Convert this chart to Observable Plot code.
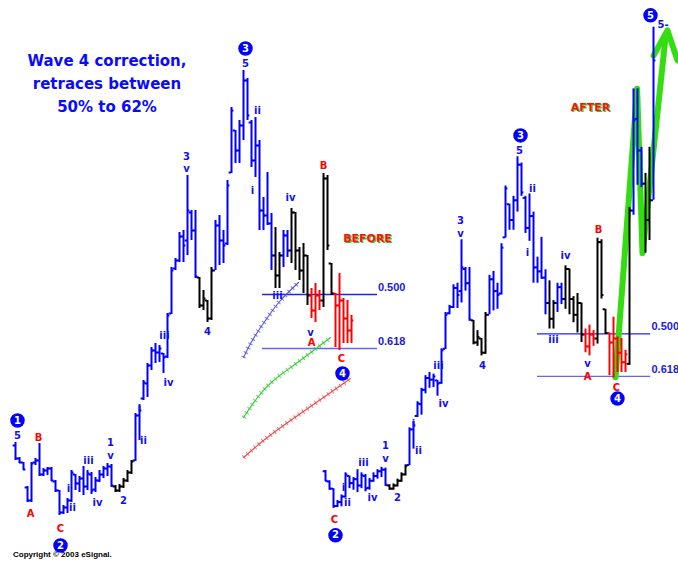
<!DOCTYPE html>
<html><head><meta charset="utf-8">
<script src="https://cdn.jsdelivr.net/npm/d3@7"></script>
<script src="https://cdn.jsdelivr.net/npm/@observablehq/plot@0.6"></script>
<style>
html,body{margin:0;padding:0;background:#fff;}
#wrap{position:relative;width:678px;height:563px;overflow:hidden;background:#fff;}
#wrap svg{position:absolute;left:0;top:0;}
.title{position:absolute;left:0;top:50px;width:214px;text-align:center;color:#0a0aff;font:bold 15px "DejaVu Sans";line-height:23px;white-space:nowrap;}
.copy{position:absolute;left:13px;top:550px;font:bold 8px "Liberation Sans";color:#000;white-space:nowrap;}
</style></head><body>
<div id="wrap">
  <div class="title">Wave 4 correction,<br>retraces between<br>50% to 62%</div>
  <div class="copy">Copyright © 2003 eSignal.</div>
</div>
<script>
// ---- price bars (bar index = position in array) ----
const barHigh  = [27.3,25.8,25.3,22.9,25.3,25.7,27.2,24.7,24.8,24.8,23.5,22.5,21.0,21.7,24.5,24.1,23.9,24.9,24.5,24.3,23.8,24.5,24.9,25.2,25.1,23.0,23.1,23.7,24.5,25.5,30.2,31.0,33.5,35.2,36.8,37.2,37.0,36.2,40.2,44.8,45.7,48.3,48.5,54.0,50.5,50.5,43.8,42.5,41.5,44.8,49.5,50.0,48.5,53.5,60.8,58.5,59.5,64.5,63.7,59.5,59.8,57.5,51.8,54.3,50.2,48.8,46.3,48.5,48.5,50.7,50.3,46.8,47.2,46.0,42.7,43.2,42.5,54.2,54.0,45.2,42.2,44.2,41.7,41.5,40.0,58.1,73.1,73.1,65.7,62.4,65.7,80.9];
const barLow   = [25.5,25.2,24.5,21.3,21.3,25.0,23.9,23.9,24.0,23.4,22.3,20.0,20.1,20.2,21.3,22.5,22.3,22.0,22.5,22.1,22.3,23.3,23.7,23.9,22.8,22.3,22.3,22.7,23.3,24.1,25.4,27.5,31.5,31.8,34.5,35.2,35.3,34.2,35.7,40.1,44.5,45.3,45.3,46.0,47.5,43.7,40.7,40.5,39.3,39.5,44.5,45.0,45.2,47.0,54.2,55.2,55.2,57.5,59.5,54.8,53.8,48.5,48.5,49.0,44.5,42.7,42.7,44.8,45.8,45.2,44.5,43.5,42.2,41.0,39.7,39.3,40.5,40.8,46.5,42.0,36.8,36.5,37.2,37.2,37.2,38.1,57.1,60.9,60.6,52.3,53.9,59.0];
const barOpen  = [27.0,25.7,25.3,22.8,21.5,25.3,25.5,24.1,24.5,24.7,23.4,22.5,20.3,20.8,21.5,24.1,23.2,23.7,22.9,24.1,22.6,23.5,24.1,24.7,24.9,22.9,22.5,22.9,23.5,24.3,25.5,30.0,31.7,33.2,35.0,36.5,36.3,36.2,35.9,40.2,44.7,45.5,47.9,47.5,50.3,48.5,43.8,41.0,41.5,39.7,44.5,49.0,47.5,47.2,54.3,58.5,56.5,59.0,63.5,59.3,55.5,57.0,50.5,50.0,49.2,46.0,44.0,46.0,48.0,46.5,50.3,46.5,44.5,46.0,42.0,40.5,42.0,41.5,53.7,45.2,42.2,41.0,41.5,39.7,38.5,38.3,57.7,69.3,65.3,61.1,56.5,59.0];
const barClose = [25.7,25.3,24.6,21.5,25.2,25.5,24.1,24.5,24.7,23.5,22.5,20.3,20.8,21.5,24.3,23.2,23.7,22.9,24.2,22.5,23.5,24.1,24.7,24.9,23.0,22.5,22.9,23.5,24.3,25.4,30.0,30.5,33.3,35.0,36.5,36.3,36.7,35.8,40.0,44.5,45.5,47.9,47.0,50.5,48.5,43.9,41.0,41.7,39.7,44.5,49.0,47.5,47.0,53.0,60.5,56.5,59.0,63.5,60.0,55.5,57.0,50.5,50.0,49.2,46.0,44.0,46.0,48.0,46.5,50.3,46.5,44.5,46.0,42.0,40.5,42.0,41.5,53.7,47.0,42.2,41.0,41.5,39.7,38.5,39.5,57.7,69.1,65.3,61.1,56.5,59.0,76.7];
// wave colouring class: b = impulse (blue), k = correction (black), r = ABC (red)
const barWave  = "bbbbbbbbbbbbbbbbbbbbbbbbbkkkkkbbbbbbbbbbbbbbbbkkkkbbbbbbbbbbbbbbbkkbbkkkkkrrrkkkrrrrrkbbbkkb".split("");

// ---- retracement levels ----
const fibLabels = ["0.500", "0.618"];
const fibPrices = [42.1, 36.7];

// ---- wave labels [text, bar index, price] ----
const beforeLabels = [
  ["5",0.5,28.0],["B",5.75,27.8],["A",3.75,20.2],["C",11.25,18.7],
  ["i",13.25,22.7],["ii",14.25,20.8],["iii",18.25,25.5],["iv",20.5,21.3],
  ["1",23.75,27.3],["v",23.75,26.0],["2",27,21.5],["i",31,30.7],["ii",32,27.5],
  ["iii",37.25,38.0],["iv",38.25,33.3],["3",42.75,55.9],["v",42.75,54.7],["4",48,38.4],
  ["5",57.5,65.2],["ii",60.5,60.5],["i",59.25,52.5],["iv",68.75,51.8],["iii",65.5,42.0],
  ["B",77,55.0],["v",73.75,38.3],["A",74,37.3],["C",81.5,35.7]
];
const beforeCircles = [["1",0.5,29.5],["2",11.25,17.0],["3",57.5,66.7],["4",81.75,34.2]];
const afterLabels = [
  ["C",11.25,18.5],["i",13.5,22.6],["ii",14.5,20.7],["iii",18.5,25.8],["iv",20.75,21.3],
  ["1",24,27.9],["v",24,26.3],["2",27,21.3],["i",31,30.7],["ii",32.25,27.3],
  ["iii",37.25,38.1],["iv",38.5,33.3],["3",42.75,56.4],["v",42.75,54.8],["4",48.25,38.1],
  ["5",57.5,65.3],["ii",60.75,60.5],["i",59.5,52.3],["iv",69,52.0],["iii",66,41.3],
  ["B",77.25,55.2],["v",74.5,38.3],["A",74.5,36.6],["C",81.75,35.3],["5-",93.4,81.2]
];
const afterCircles = [["2",11.5,16.6],["3",57.75,67.2],["4",82,33.9],["5",90.25,82.4]];

// ---- projection curves (before chart) [bar index, price] ----
const fanBlue  = [[57,35.8],[59.5,37.7],[63,39.8],[66.25,41.5],[70.75,43.3]];
const fanGreen = [[57,29.8],[60.5,31.8],[64.5,33.5],[70.5,35.3],[78.75,37.8]];
const fanRed   = [[57,25.8],[62,27.5],[68.75,29.5],[77,31.8],[83.75,33.7]];

// ---- green wave-5 arrow (after chart) ----
const arrowShaft = [[81.5,36.6],[86.9,73.1],[88.25,52.3],[94,79.6]];
const arrowHead  = [[91,77.3],[94.5,80.5],[97,76.7]];

// ---- build ----
const colorOf = {b:"#0000ff", k:"#000000", r:"#ff0000"};
const bars = barHigh.map((h,i)=>({i, hi:h, lo:barLow[i], op:barOpen[i], cl:barClose[i], col:colorOf[barWave[i]]}));
const isRed = t => t==="A"||t==="B"||t==="C";
const toLab = arr => arr.map(([t,x,y])=>({t,x,y,col:isRed(t)?"#ff0000":"#1010ee"}));
const toCirc = arr => arr.map(([t,x,y])=>({t,x,y}));
const fibs = fibLabels.map((l,k)=>({l, p:fibPrices[k]}));
const FONT = "DejaVu Sans";

function barMarks(data){
  return [
    Plot.ruleX(data,{x:"i", y1:"lo", y2:"hi", stroke:"col", strokeWidth:2}),
    Plot.ruleY(data,{y:"op", x1:d=>d.i-0.6, x2:"i", stroke:"col", strokeWidth:2}),
    Plot.ruleY(data,{y:"cl", x1:"i", x2:d=>d.i+0.6, stroke:"col", strokeWidth:2})
  ];
}
function labelMarks(labs, circs){
  return [
    Plot.text(toLab(labs),{x:"x", y:"y", text:"t", fill:"col", fontWeight:"bold", fontSize:10, fontFamily:FONT}),
    Plot.dot(toCirc(circs),{x:"x", y:"y", r:6.5, fill:"#0000ff", stroke:"#0000ff"}),
    Plot.text(toCirc(circs),{x:"x", y:"y", text:"t", fill:"#ffffff", fontWeight:"bold", fontSize:10, fontFamily:FONT})
  ];
}
function fibMarks(x1, x2, lx){
  return [
    Plot.ruleY(fibs,{y:"p", x1:x1, x2:x2, stroke:(d)=>d.l==="0.500"?"#2222ee":"#6666f0", strokeWidth:1.3}),
    Plot.text(fibs,{x:lx, y:"p", text:"l", textAnchor:"start", dy:-7, fill:"#1a1ae0", fontWeight:"bold", fontSize:11, fontFamily:"Liberation Sans"})
  ];
}
function shadowText(str, x, y){
  const d=[{t:str,x,y}];
  return [
    Plot.text(d,{x:"x",y:"y",text:"t",fill:"#22cc22",dx:1,dy:1,fontWeight:"bold",fontSize:11,fontFamily:FONT}),
    Plot.text(d,{x:"x",y:"y",text:"t",fill:"#ff1010",fontWeight:"bold",fontSize:11,fontFamily:FONT})
  ];
}
const fan = (pts, s) => pts.map(([x,y])=>({x,y,s}));
const fanData = [...fan(fanBlue,"#5050e8"), ...fan(fanGreen,"#33cc33"), ...fan(fanRed,"#ee4848")];

const before = Plot.plot({
  width:678, height:563, margin:0,
  style:{background:"none", overflow:"visible"},
  x:{domain:[0,84], range:[15,351], axis:null},
  y:{domain:[20,64.5], range:[515,70], axis:null},
  color:{type:"identity"},
  marks:[
    ...fibMarks(61.75, 90.5, 90.6),
    Plot.line(fanData,{x:"x", y:"y", z:"s", stroke:"s", strokeWidth:1.1, curve:"natural"}),
    Plot.line(fanData,{x:"x", y:"y", z:"s", stroke:"s", strokeWidth:5, strokeDasharray:"1,4", strokeLinecap:"butt", strokeOpacity:0.75, curve:"natural"}),
    ...barMarks(bars.filter(d=>d.i<=84)),
    ...labelMarks(beforeLabels, beforeCircles),
    ...shadowText("BEFORE", 88, 47.7)
  ]
});

const arrowData = [...arrowShaft.map(([x,y])=>({x,y,z:"s"})), ...arrowHead.map(([x,y])=>({x,y,z:"h"}))];
const after = Plot.plot({
  width:678, height:563, margin:0,
  style:{background:"none", overflow:"visible"},
  x:{domain:[0,84], range:[289,625], axis:null},
  y:{domain:[20,64.5], range:[507.9,156.3], axis:null},
  color:{type:"identity"},
  marks:[
    ...fibMarks(62, 90.3, 90.5),
    Plot.line(arrowData,{x:"x", y:"y", z:"z", stroke:"#33dd11", strokeWidth:6, strokeLinejoin:"round", strokeLinecap:"round"}),
    ...barMarks(bars.filter(d=>d.i>=9)),
    ...labelMarks(afterLabels, afterCircles),
    ...shadowText("AFTER", 75.25, 70.7)
  ]
});
const wrap = document.getElementById("wrap");
wrap.appendChild(before);
wrap.appendChild(after);
</script></body></html>
